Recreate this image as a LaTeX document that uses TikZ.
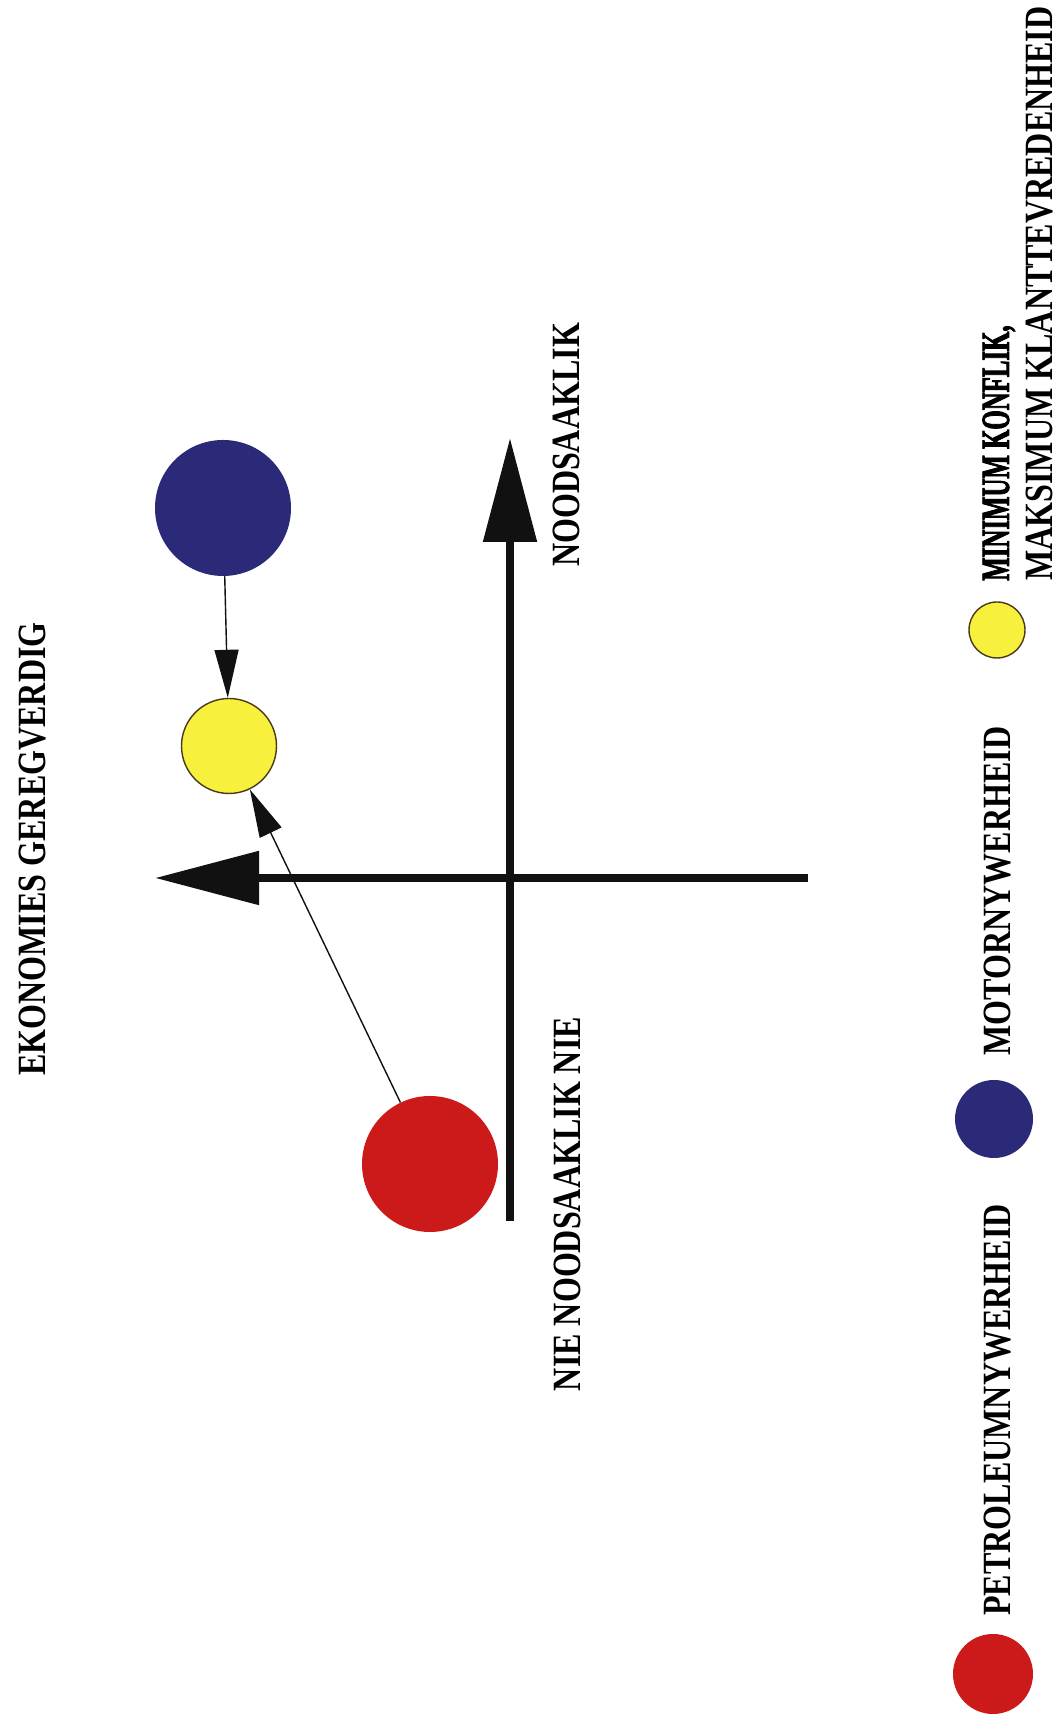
\documentclass[tikz,border=0pt]{standalone}
\usepackage{fontspec}
\setmainfont{Liberation Serif}
\newfontfamily\labelfont[FakeStretch=0.8]{Liberation Serif}
\newfontfamily\narrowfont[FakeStretch=0.62,FakeBold=2]{Liberation Serif}
\usepackage{tikz}
\usetikzlibrary{arrows.meta,positioning,calc}
\usepackage{xcolor}
\definecolor{Ink}{HTML}{111111}
\definecolor{Navy}{HTML}{2B2A78}
\definecolor{Crimson}{HTML}{CC1A1A}
\definecolor{Lemon}{HTML}{F7F03C}
\definecolor{Rim}{HTML}{4A3A1A}

\begin{document}
\begin{tikzpicture}[
  axis/.style={-{Triangle[length=2.6cm,width=1.3cm]},line width=6pt,draw=Ink},
  move/.style={-{Triangle[length=1.2cm,width=0.6cm]},line width=1pt,draw=Ink},
  blob/.style={circle,inner sep=0pt},
  lbl/.style={font=\labelfont\bfseries\fontsize{28.5}{31.3}\selectfont,
              inner sep=0pt,rotate=90,align=left}
]
  \useasboundingbox (0,0) rectangle (26.5,43.125);
  \coordinate (ybot) at (12.75,12.6);
  \coordinate (ytop) at (12.75,32.175);
  \coordinate (xright) at (20.2,21.175);
  \coordinate (xleft) at (3.875,21.175);
  \draw[axis] (ybot) -- (ytop);
  \draw[axis] (xright) -- (xleft);
  \node[lbl] (need) at (14.15,32.0) {NOODSAAKLIK};
  \node[lbl] (noneed) at (14.175,13.025) {NIE NOODSAAKLIK NIE};
  \node[lbl] (econ) at (0.825,21.9) {EKONOMIES GEREGVERDIG};
  \node[blob,fill=Navy,minimum size=3.4cm] (motor) at (5.575,30.425) {};
  \node[blob,fill=Lemon,draw=Rim,line width=1pt,minimum size=2.375cm] (target) at (5.725,24.475) {};
  \node[blob,fill=Crimson,minimum size=3.4cm] (petrol) at (10.75,14.025) {};
  \draw[move] (motor) -- (target);
  \draw[move] (petrol) -- (target);
  \node[blob,fill=Crimson,minimum size=2cm] (keypetrol) at (24.825,1.275) {};
  \node[lbl] (keypetroltext) at (24.95,7.875) {PETROLEUMNYWERHEID};
  \node[blob,fill=Navy,minimum size=1.95cm] (keymotor) at (24.85,15.15) {};
  \node[lbl] (keymotortext) at (24.95,20.85) {MOTORNYWERHEID};
  \node[blob,fill=Lemon,draw=Rim,line width=1pt,minimum size=1.4cm] (keytarget) at (24.925,27.375) {};
  \node[lbl,anchor=west] (keytargettext) at (25.45,28.6) {{\narrowfont\bfseries MINIMUM KONFLIK,}\\MAKSIMUM KLANTTEVREDENHEID};
\end{tikzpicture}
\end{document}
